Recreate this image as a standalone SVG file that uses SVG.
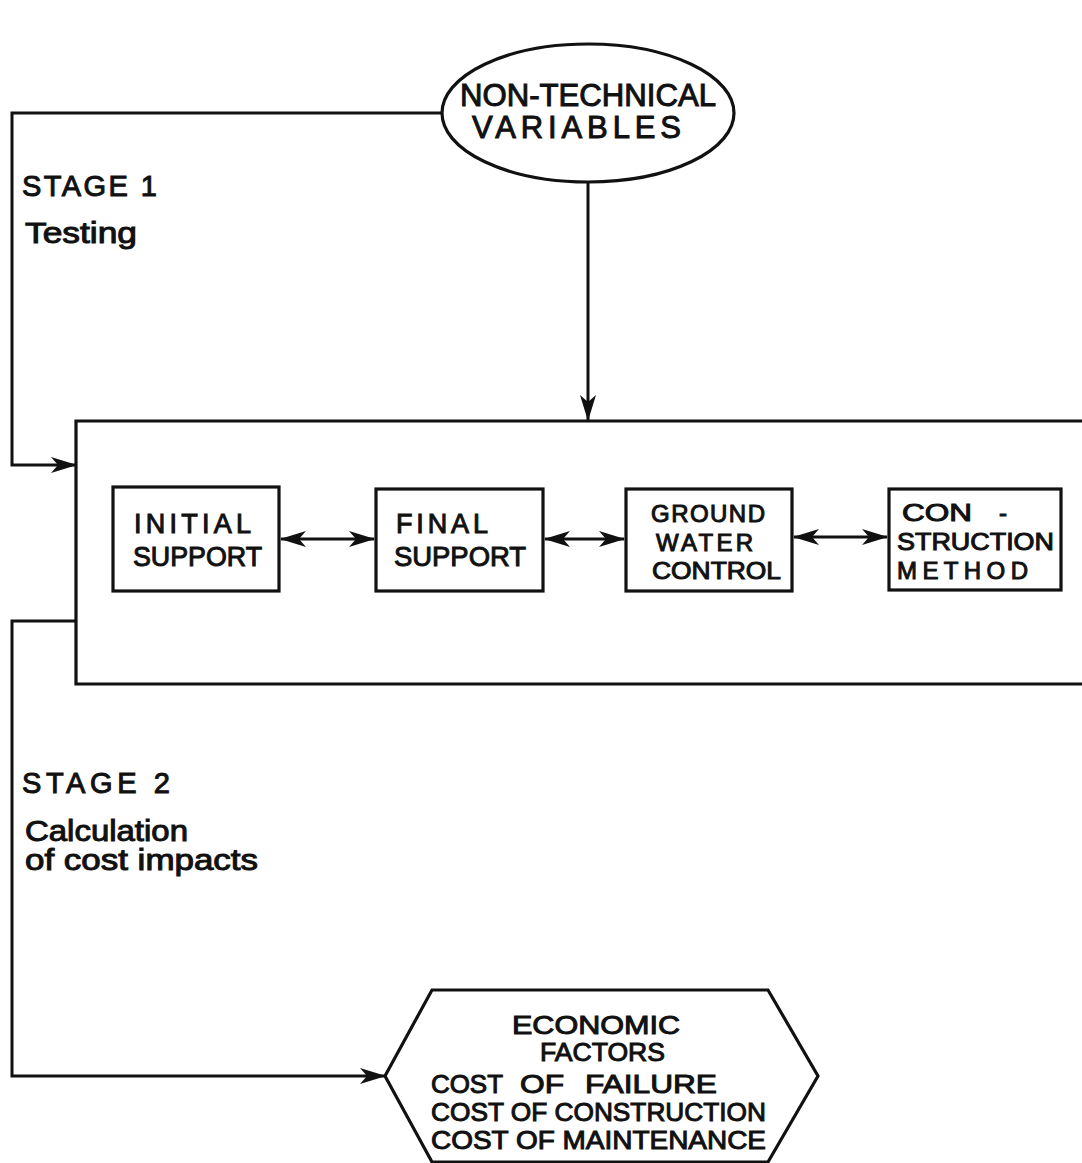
<svg xmlns="http://www.w3.org/2000/svg" width="1082" height="1163" viewBox="0 0 1082 1163">
  <style>
    .ln { fill: none; stroke: #111; stroke-width: 3; stroke-linejoin: miter; }
    .shape { fill: #fff; stroke: #111; stroke-width: 3.2; }
    text { font-family: "Liberation Sans", Arial, sans-serif; fill: #111; stroke: #111; stroke-width: 1; }
    .big { font-size: 31px; }
    .lbl { font-size: 29px; }
    .box { font-size: 27px; }
    .box3 { font-size: 24px; }
    .hex { font-size: 26px; }
  </style>
  <defs>
    <marker id="head" viewBox="0 0 26 16" refX="25" refY="8" markerWidth="26" markerHeight="16" markerUnits="userSpaceOnUse" orient="auto-start-reverse">
      <path d="M0,0 L26,8 L0,16 L7,8 Z" fill="#111"/>
    </marker>
  </defs>

  <rect width="1082" height="1163" fill="#fff"/>

  <!-- connectors -->
  <g id="connectors">
    <polyline class="ln" points="443,113 12,113 12,465 76,465" marker-end="url(#head)"/>
    <line class="ln" x1="588" y1="182" x2="588" y2="420" marker-end="url(#head)"/>
    <polyline class="ln" points="76,621 12,621 12,1076 385,1076" marker-end="url(#head)"/>
    <line class="ln" x1="281" y1="539" x2="374" y2="539" marker-start="url(#head)" marker-end="url(#head)"/>
    <line class="ln" x1="545" y1="539" x2="624" y2="539" marker-start="url(#head)" marker-end="url(#head)"/>
    <line class="ln" x1="794" y1="537" x2="887" y2="537" marker-start="url(#head)" marker-end="url(#head)"/>
  </g>

  <!-- source of non-technical inputs -->
  <g id="non-technical">
    <ellipse class="shape" cx="588" cy="113" rx="146" ry="69"/>
    <text class="big" x="460" y="106" textLength="256" lengthAdjust="spacingAndGlyphs">NON-TECHNICAL</text>
    <text class="big" x="472" y="138" textLength="209" lengthAdjust="spacing">VARIABLES</text>
  </g>

  <!-- stage captions -->
  <g id="stage1">
    <text class="lbl" x="22" y="196" textLength="135" lengthAdjust="spacing">STAGE 1</text>
    <text class="lbl" x="25" y="243" textLength="112" lengthAdjust="spacingAndGlyphs">Testing</text>
  </g>
  <g id="stage2">
    <text class="lbl" x="22" y="793" textLength="148" lengthAdjust="spacing">STAGE  2</text>
    <text class="lbl" x="25" y="841" textLength="163" lengthAdjust="spacingAndGlyphs">Calculation</text>
    <text class="lbl" x="25" y="870" textLength="233" lengthAdjust="spacingAndGlyphs">of cost impacts</text>
  </g>

  <!-- design system container (open to the right) -->
  <g id="system">
    <polyline class="ln" points="1082,421 76,421 76,684 1082,684" style="stroke-width:3.2"/>
  </g>

  <g id="initial-support">
    <rect class="shape" x="113" y="487" width="166" height="104"/>
    <text class="box" x="134" y="533" textLength="117" lengthAdjust="spacing">INITIAL</text>
    <text class="box" x="133" y="566" textLength="129" lengthAdjust="spacingAndGlyphs">SUPPORT</text>
  </g>

  <g id="final-support">
    <rect class="shape" x="376" y="489" width="167" height="102"/>
    <text class="box" x="396" y="533" textLength="92" lengthAdjust="spacing">FINAL</text>
    <text class="box" x="394" y="566" textLength="132" lengthAdjust="spacingAndGlyphs">SUPPORT</text>
  </g>

  <g id="ground-water">
    <rect class="shape" x="626" y="489" width="166" height="102"/>
    <text class="box3" x="651" y="522" textLength="114" lengthAdjust="spacing">GROUND</text>
    <text class="box3" x="656" y="551" textLength="97" lengthAdjust="spacing">WATER</text>
    <text class="box3" x="652" y="579" textLength="129" lengthAdjust="spacingAndGlyphs">CONTROL</text>
  </g>

  <g id="construction-method">
    <rect class="shape" x="889" y="489" width="172" height="101"/>
    <text class="box3" x="902" y="521" textLength="70" lengthAdjust="spacingAndGlyphs">CON</text>
    <text class="box3" x="999" y="521">-</text>
    <text class="box3" x="897" y="550" textLength="157" lengthAdjust="spacingAndGlyphs">STRUCTION</text>
    <text class="box3" x="897" y="579" textLength="131" lengthAdjust="spacing">METHOD</text>
  </g>

  <!-- economic factors -->
  <g id="economic-factors">
    <polygon class="shape" points="432,990 768,990 818,1076 768,1162 432,1162 385,1076"/>
    <text class="hex" x="512" y="1034" textLength="168" lengthAdjust="spacingAndGlyphs">ECONOMIC</text>
    <text class="hex" x="540" y="1061" textLength="125" lengthAdjust="spacingAndGlyphs">FACTORS</text>
    <text class="hex" y="1093"><tspan x="431" textLength="72" lengthAdjust="spacingAndGlyphs">COST</tspan><tspan x="520" textLength="44" lengthAdjust="spacingAndGlyphs">OF</tspan><tspan x="585" textLength="132" lengthAdjust="spacingAndGlyphs">FAILURE</tspan></text>
    <text class="hex" x="431" y="1121" textLength="335" lengthAdjust="spacingAndGlyphs">COST OF CONSTRUCTION</text>
    <text class="hex" x="431" y="1149" textLength="335" lengthAdjust="spacingAndGlyphs">COST OF MAINTENANCE</text>
  </g>
</svg>
